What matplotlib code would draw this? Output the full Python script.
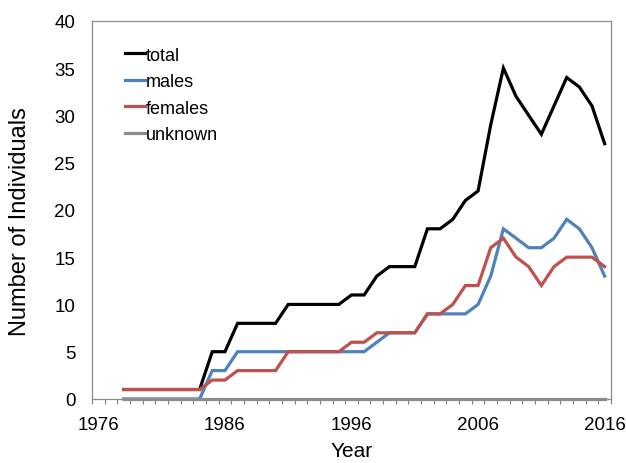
import matplotlib
matplotlib.use('Agg')
import matplotlib.pyplot as plt
from matplotlib.ticker import FixedLocator

# 字体设置 (Arial 的替代)
plt.rcParams['font.family'] = ['Liberation Sans', 'DejaVu Sans']
plt.rcParams['font.size'] = 13

# 数据
years = list(range(1978, 2017))
total = [1, 1, 1, 1, 1, 1, 1, 5, 5, 8, 8, 8, 8, 10, 10, 10, 10, 10, 11, 11,
         13, 14, 14, 14, 18, 18, 19, 21, 22, 29, 35, 32, 30, 28, 31, 34, 33, 31, 27]
males = [0, 0, 0, 0, 0, 0, 0, 3, 3, 5, 5, 5, 5, 5, 5, 5, 5, 5, 5, 5,
         6, 7, 7, 7, 9, 9, 9, 9, 10, 13, 18, 17, 16, 16, 17, 19, 18, 16, 13]
females = [1, 1, 1, 1, 1, 1, 1, 2, 2, 3, 3, 3, 3, 5, 5, 5, 5, 5, 6, 6,
           7, 7, 7, 7, 9, 9, 10, 12, 12, 16, 17, 15, 14, 12, 14, 15, 15, 15, 14]
unknown = [0] * len(years)

series_names = ['total', 'males', 'females', 'unknown']
series_colors = ['#000000', '#4F81BD', '#C0504D', '#8C8C8C']
year_labels = [1976, 1986, 1996, 2006, 2016]

fig = plt.figure(figsize=(6.26, 4.64), dpi=100)
ax = fig.add_axes([0.147, 0.138, 0.829, 0.815])

for vals, name, col in zip([total, males, females, unknown], series_names, series_colors):
    ax.plot(years, vals, color=col, lw=2.3, label=name, clip_on=False,
            solid_joinstyle='miter')

ax.set_xlim(1975.5, 2016.5)
ax.set_ylim(0, 40)
ax.set_yticks(range(0, 41, 5))
ax.set_xticks(year_labels)
ax.xaxis.set_minor_locator(FixedLocator([1975.5 + i for i in range(42)]))

ax.tick_params(axis='x', which='major', length=0, pad=12.5, labelsize=13.5)
ax.tick_params(axis='x', which='minor', length=3.5, width=0.8, color='#808080', direction='out')
ax.tick_params(axis='y', which='major', length=0, pad=12, labelsize=13.5)

for s in ax.spines.values():
    s.set_color('#8C8C8C')
    s.set_linewidth(0.9)

ax.set_xlabel('Year', fontsize=15)
ax.set_ylabel('Number of Individuals', fontsize=17)
ax.xaxis.label.set_verticalalignment('center')
ax.yaxis.label.set_verticalalignment('center')
ax.xaxis.set_label_coords(0.5, -0.136)
ax.yaxis.set_label_coords(-0.139, 0.472)

ax.legend(loc='upper left', bbox_to_anchor=(0.0636, 0.932), frameon=False,
          borderpad=0, borderaxespad=0, handlelength=1.1, handletextpad=0.05,
          labelspacing=0.53, fontsize=13)

plt.savefig('out.png', dpi=100)
